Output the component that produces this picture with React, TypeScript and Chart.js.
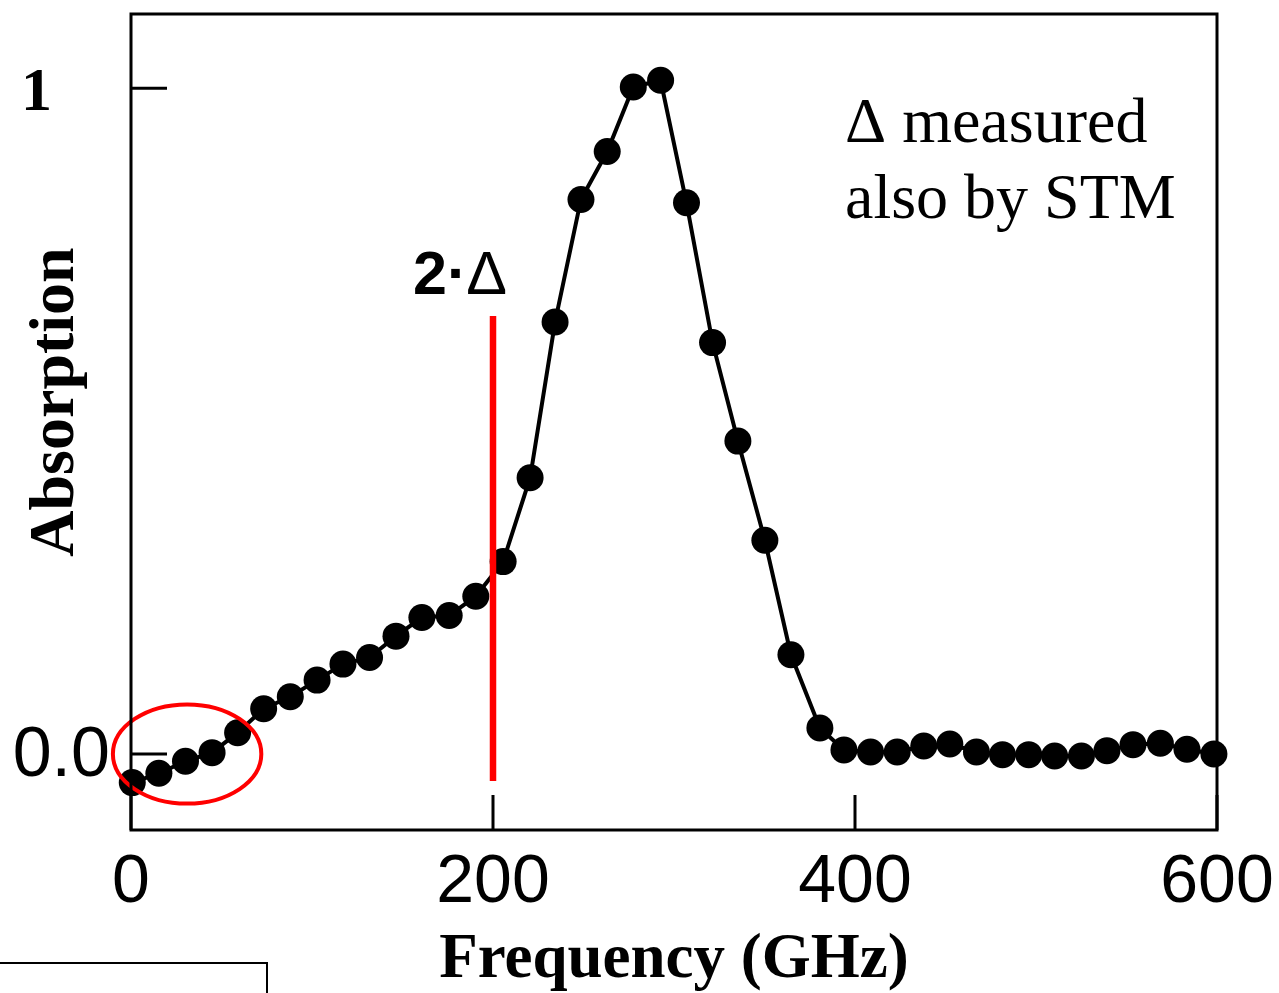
import React, { useEffect, useRef } from "react";
import { Chart, registerables } from "chart.js";

Chart.register(...registerables);

// ---- data ----
const freqGHz = [
  0.7, 15.4, 30.1, 44.8, 58.9, 73.3, 88.0, 102.8, 117.1, 131.8, 146.4, 160.7,
  175.8, 190.5, 205.6, 220.5, 234.3, 248.6, 263.1, 277.5, 292.6, 306.9, 321.3,
  335.3, 350.2, 364.6, 380.6, 393.9, 408.6, 423.3, 438.0, 452.4, 467.1, 481.5,
  496.0, 510.3, 525.1, 539.2, 553.6, 568.7, 583.4, 598.3,
];
const absorption = [
  -0.043, -0.029, -0.011, 0.002, 0.032, 0.068, 0.086, 0.111, 0.135, 0.145,
  0.177, 0.205, 0.208, 0.237, 0.289, 0.415, 0.649, 0.833, 0.905, 1.002, 1.012,
  0.828, 0.618, 0.47, 0.321, 0.149, 0.039, 0.006, 0.003, 0.003, 0.012, 0.015,
  0.003, -0.001, -0.001, -0.003, -0.003, 0.005, 0.014, 0.016, 0.007, 0.0,
];
const xTickValues = [0, 200, 400, 600];
const yTickValues = [0, 1];
const yTickLabels = ["0.0", "1"];
const gapFreq = [200, 200];
const gapLineY = [-0.0405, 0.658];
const ellipseCenter = [31, 0.0];
const ellipseRadii = [41, 0.0745];

const serif = "'Liberation Serif', 'Times New Roman', serif";
const sans = "'Liberation Sans', Arial, Helvetica, sans-serif";

const decorPlugin = {
  id: "decor",
  afterDatasetsDraw(chart: any) {
    const { ctx, scales } = chart;
    const xs = scales.x;
    const ys = scales.y;
    // red ellipse
    const cx = xs.getPixelForValue(ellipseCenter[0]);
    const cy = ys.getPixelForValue(ellipseCenter[1]);
    const rx = xs.getPixelForValue(ellipseCenter[0] + ellipseRadii[0]) - cx;
    const ry = cy - ys.getPixelForValue(ellipseCenter[1] + ellipseRadii[1]);
    ctx.save();
    ctx.strokeStyle = "#ff0000";
    ctx.lineWidth = 4;
    ctx.beginPath();
    ctx.ellipse(cx, cy, rx, ry, 0, 0, Math.PI * 2);
    ctx.stroke();
    ctx.restore();
  },
  afterDraw(chart: any) {
    const { ctx, chartArea, scales } = chart;
    const xs = scales.x;
    const ys = scales.y;
    const { left, right, top, bottom } = chartArea;
    ctx.save();
    // frame
    ctx.strokeStyle = "#000";
    ctx.lineWidth = 3;
    ctx.strokeRect(left, top, right - left, bottom - top);
    // inward ticks
    ctx.lineWidth = 3;
    ctx.beginPath();
    yTickValues.forEach((v) => {
      const y = ys.getPixelForValue(v);
      ctx.moveTo(left, y);
      ctx.lineTo(left + 36, y);
    });
    xTickValues.forEach((v) => {
      const x = xs.getPixelForValue(v);
      ctx.moveTo(x, bottom);
      ctx.lineTo(x, bottom - 35);
    });
    ctx.stroke();

    // y tick labels
    ctx.fillStyle = "#000";
    ctx.textBaseline = "alphabetic";
    ctx.textAlign = "right";
    yTickValues.forEach((v, i) => {
      const y = ys.getPixelForValue(v);
      if (yTickLabels[i] === "1") {
        ctx.font = `bold 62px ${serif}`;
        ctx.fillText(yTickLabels[i], left - 79, y + 22);
      } else {
        ctx.font = `70px ${sans}`;
        ctx.fillText(yTickLabels[i], left - 21, y + 22);
      }
    });

    // y axis title
    ctx.save();
    ctx.translate(73, 402);
    ctx.rotate(-Math.PI / 2);
    ctx.textAlign = "center";
    ctx.textBaseline = "alphabetic";
    ctx.font = `bold 64px ${serif}`;
    ctx.fillText("Absorption", 0, 0);
    ctx.restore();

    // annotation text
    ctx.textAlign = "left";
    ctx.font = `64px ${serif}`;
    ctx.fillText("\u0394 measured", 845, 142);
    ctx.fillText("also by STM", 845, 218);

    // 2·Δ label
    ctx.font = `bold 61px ${sans}`;
    const t1 = "2\u00b7";
    ctx.fillText(t1, 413, 294);
    const w1 = ctx.measureText(t1).width;
    ctx.font = `61px ${sans}`;
    ctx.fillText("\u0394", 413 + w1 - 1, 294);

    // bottom-left box fragment
    ctx.lineWidth = 2;
    ctx.beginPath();
    ctx.moveTo(0, 963);
    ctx.lineTo(267, 963);
    ctx.lineTo(267, 993);
    ctx.stroke();
    ctx.restore();
  },
};

export default function App() {
  const ref = useRef<HTMLCanvasElement | null>(null);
  useEffect(() => {
    if (!ref.current) return;
    const chart = new Chart(ref.current, {
      type: "line",
      data: {
        datasets: [
          {
            label: "2Δ",
            data: gapFreq.map((x, i) => ({ x, y: gapLineY[i] })),
            borderColor: "#ff0000",
            borderWidth: 6.5,
            pointRadius: 0,
            borderCapStyle: "butt",
            order: 0,
            clip: false,
          },
          {
            label: "Absorption",
            data: freqGHz.map((x, i) => ({ x, y: absorption[i] })),
            borderColor: "#000",
            borderWidth: 4,
            pointRadius: 13.5,
            pointBackgroundColor: "#000",
            pointBorderWidth: 0,
            pointHoverRadius: 13.5,
            tension: 0,
            order: 1,
            clip: false,
          },
        ],
      },
      options: {
        responsive: false,
        animation: false,
        events: [],
        layout: { padding: { left: 0, top: 14, right: 62, bottom: 0 } },
        plugins: {
          legend: { display: false },
          tooltip: { enabled: false },
          title: { display: false },
        },
        scales: {
          x: {
            type: "linear",
            min: 0,
            max: 600,
            grid: { display: false, drawTicks: false },
            border: { display: false },
            afterBuildTicks: (s: any) => {
              s.ticks = xTickValues.map((v) => ({ value: v }));
            },
            afterFit: (s: any) => {
              s.height = 163;
              s.paddingLeft = 0;
              s.paddingRight = 0;
            },
            ticks: {
              padding: 19,
              color: "#000",
              maxRotation: 0,
              font: { family: sans, size: 68, lineHeight: 1 },
              callback: (v: any) => String(v),
            },
            title: {
              display: true,
              text: "Frequency (GHz)",
              color: "#000",
              font: { family: serif, size: 63, weight: "bold", lineHeight: 1 },
              padding: { top: 0, bottom: 1 },
            },
          },
          y: {
            type: "linear",
            min: -0.1142,
            max: 1.1116,
            grid: { display: false, drawTicks: false },
            border: { display: false },
            afterBuildTicks: (s: any) => {
              s.ticks = yTickValues.map((v) => ({ value: v }));
            },
            afterFit: (s: any) => {
              s.width = 131;
              s.paddingTop = 0;
              s.paddingBottom = 0;
            },
            ticks: { display: false },
          },
        },
      },
      plugins: [decorPlugin],
    } as any);
    return () => chart.destroy();
  }, []);
  return (
    <div style={{ position: "fixed", left: 0, top: 0, width: 1279, height: 993, background: "#fff" }}>
      <canvas ref={ref} width={1279} height={993} style={{ display: "block" }} />
    </div>
  );
}
